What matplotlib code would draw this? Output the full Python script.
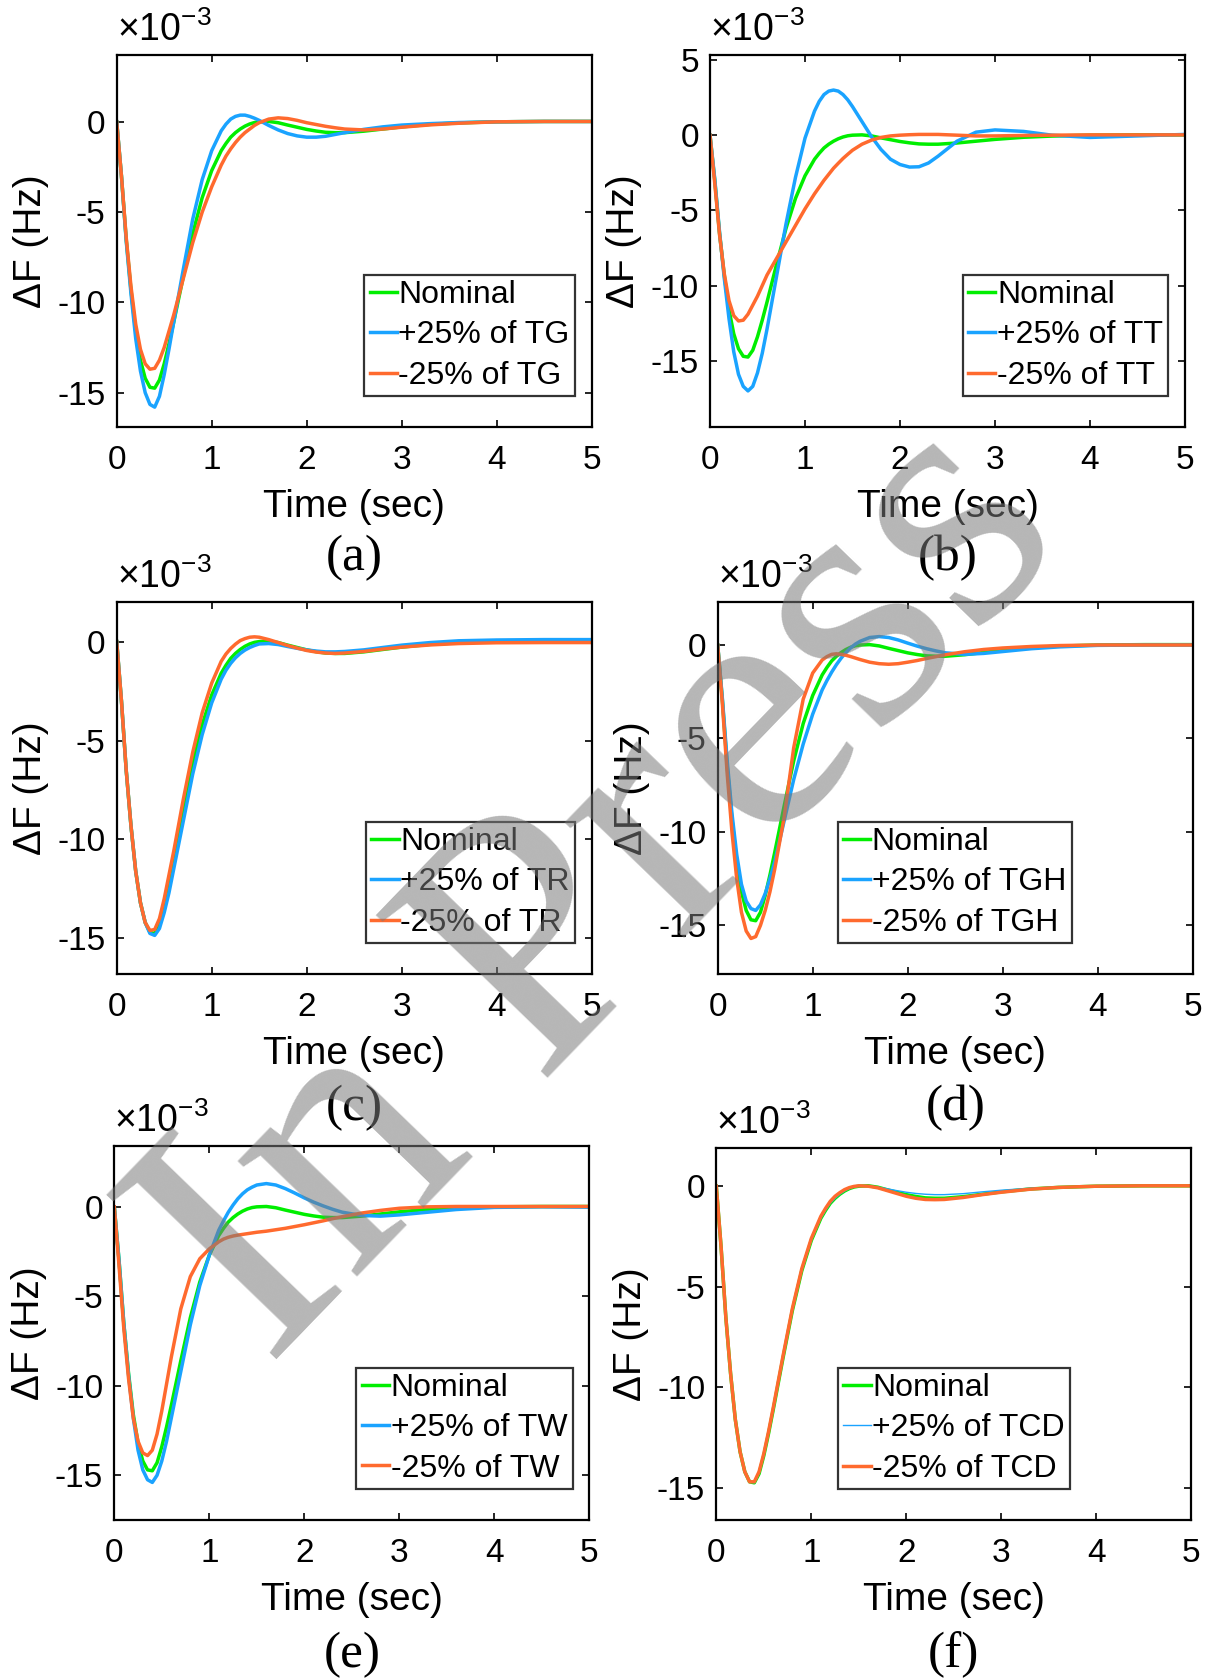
import matplotlib
matplotlib.use("Agg")
import matplotlib.pyplot as plt
from matplotlib.ticker import MultipleLocator

plt.rcParams['font.family'] = ['Liberation Sans', 'DejaVu Sans']
plt.rcParams['axes.unicode_minus'] = False
plt.rcParams['mathtext.fontset'] = 'custom'
plt.rcParams['mathtext.rm'] = 'Liberation Sans'

# time axis (sec) and frequency deviation (x 1e-3 Hz)
t = [0, 0.05, 0.1, 0.15, 0.2, 0.25, 0.3, 0.35, 0.4, 0.45, 0.5, 0.55, 0.6, 0.7, 0.8, 0.9,
     1.0, 1.1, 1.15, 1.2, 1.25, 1.3, 1.35, 1.4, 1.45, 1.5, 1.6, 1.7, 1.8, 1.9, 2.0, 2.1,
     2.2, 2.3, 2.4, 2.6, 2.8, 3.0, 3.3, 3.6, 4.0, 4.5, 5.0]

nominal = [0, -3.0, -6.5, -9.3, -11.6, -13.2, -14.2, -14.7, -14.75, -14.3, -13.4, -12.3, -11.1,
           -8.6, -6.2, -4.2, -2.7, -1.6, -1.2, -0.85, -0.6, -0.4, -0.24, -0.12, -0.04, 0.0,
           0.02, -0.05, -0.18, -0.3, -0.42, -0.51, -0.58, -0.6, -0.6, -0.52, -0.4, -0.28,
           -0.14, -0.06, 0.0, 0.02, 0.02]

tg_plus = [0, -3.0, -6.6, -9.5, -12.0, -13.8, -15.0, -15.65, -15.8, -15.2, -14.0, -12.6, -11.1,
           -8.2, -5.4, -3.2, -1.6, -0.5, -0.13, 0.15, 0.3, 0.37, 0.37, 0.3, 0.2, 0.08, -0.2,
           -0.45, -0.65, -0.78, -0.85, -0.85, -0.8, -0.7, -0.6, -0.42, -0.28, -0.18, -0.1,
           -0.04, 0.0, 0.02, 0.02]
tg_minus = [0, -3.0, -6.4, -9.1, -11.2, -12.6, -13.4, -13.7, -13.65, -13.2, -12.5, -11.6, -10.7,
            -8.7, -6.7, -5.0, -3.6, -2.4, -1.9, -1.5, -1.15, -0.85, -0.6, -0.4, -0.2, -0.05,
            0.15, 0.22, 0.18, 0.08, -0.05, -0.15, -0.25, -0.33, -0.4, -0.45, -0.4, -0.3,
            -0.17, -0.08, 0.0, 0.02, 0.02]

tt_plus = [0, -2.9, -6.4, -9.5, -12.2, -14.4, -15.9, -16.7, -17.0, -16.7, -15.8, -14.5, -12.9,
           -9.4, -5.9, -2.8, -0.2, 1.6, 2.25, 2.7, 2.93, 3.0, 2.93, 2.7, 2.35, 1.9, 0.9, -0.1,
           -0.95, -1.6, -1.95, -2.12, -2.1, -1.85, -1.4, -0.4, 0.2, 0.35, 0.25, 0.0, -0.15,
           -0.05, 0.05]
tt_minus = [0, -3.2, -6.6, -9.2, -11.0, -12.0, -12.35, -12.3, -11.9, -11.3, -10.7, -10.0, -9.3,
            -8.2, -7.1, -6.0, -4.9, -3.9, -3.45, -3.0, -2.6, -2.2, -1.87, -1.55, -1.27, -1.0,
            -0.6, -0.33, -0.15, -0.05, 0.0, 0.03, 0.05, 0.05, 0.05, 0.0, -0.05, -0.05, -0.02,
            0.0, 0.02, 0.02, 0.02]

tr_plus = [0, -3.0, -6.5, -9.3, -11.6, -13.2, -14.2, -14.75, -14.85, -14.5, -13.7, -12.7, -11.5,
           -9.1, -6.7, -4.7, -3.1, -1.9, -1.45, -1.1, -0.82, -0.6, -0.43, -0.3, -0.2, -0.12,
           -0.1, -0.15, -0.25, -0.34, -0.42, -0.48, -0.52, -0.52, -0.5, -0.42, -0.3, -0.18,
           -0.05, 0.04, 0.08, 0.1, 0.1]
tr_minus = [0, -3.0, -6.5, -9.3, -11.6, -13.2, -14.2, -14.6, -14.55, -14.0, -13.0, -11.8, -10.6,
            -8.0, -5.6, -3.6, -2.1, -1.0, -0.63, -0.35, -0.13, 0.05, 0.15, 0.22, 0.24, 0.22,
            0.1, -0.05, -0.2, -0.33, -0.45, -0.53, -0.58, -0.6, -0.58, -0.5, -0.38, -0.28,
            -0.17, -0.1, -0.06, -0.05, -0.05]

tgh_plus = [0, -2.9, -6.2, -9.0, -11.2, -12.8, -13.7, -14.1, -14.2, -13.9, -13.3, -12.5, -11.6,
            -9.4, -7.2, -5.3, -3.7, -2.4, -1.9, -1.45, -1.05, -0.7, -0.4, -0.15, 0.05, 0.2,
            0.4, 0.45, 0.4, 0.27, 0.1, -0.06, -0.2, -0.32, -0.42, -0.5, -0.45, -0.35, -0.2,
            -0.1, -0.02, 0.0, 0.0]
tgh_minus = [0, -3.2, -6.9, -10.0, -12.5, -14.3, -15.3, -15.7, -15.6, -15.0, -14.2, -13.2, -12.0,
             -9.2, -5.5, -2.9, -1.5, -0.8, -0.62, -0.5, -0.47, -0.5, -0.55, -0.62, -0.7, -0.78,
             -0.92, -1.0, -1.03, -1.0, -0.92, -0.83, -0.72, -0.62, -0.52, -0.36, -0.24, -0.16,
             -0.08, -0.03, 0.0, 0.0, 0.0]

tw_plus = [0, -3.0, -6.5, -9.4, -11.8, -13.6, -14.7, -15.25, -15.4, -15.0, -14.2, -13.1, -11.8,
           -9.2, -6.6, -4.4, -2.7, -1.3, -0.78, -0.3, 0.1, 0.45, 0.73, 0.95, 1.1, 1.22, 1.3,
           1.22, 1.02, 0.77, 0.5, 0.26, 0.05, -0.14, -0.3, -0.48, -0.52, -0.45, -0.3, -0.15,
           -0.03, 0.0, -0.02]
tw_minus = [0, -3.3, -6.8, -9.6, -11.8, -13.1, -13.75, -13.9, -13.6, -12.7, -11.4, -9.9, -8.4,
            -5.7, -3.9, -2.9, -2.35, -1.95, -1.8, -1.7, -1.63, -1.58, -1.54, -1.5, -1.46, -1.42,
            -1.36, -1.28, -1.2, -1.1, -1.0, -0.89, -0.78, -0.66, -0.55, -0.35, -0.2, -0.08,
            0.0, 0.02, 0.02, 0.02, 0.02]

tcd_plus = [0, -3.0, -6.5, -9.3, -11.6, -13.2, -14.2, -14.7, -14.75, -14.3, -13.4, -12.3, -11.1,
            -8.6, -6.2, -4.2, -2.7, -1.6, -1.2, -0.85, -0.6, -0.4, -0.24, -0.12, -0.04, 0.0,
            0.02, -0.04, -0.13, -0.22, -0.3, -0.36, -0.4, -0.42, -0.42, -0.37, -0.28, -0.2,
            -0.1, -0.04, 0.0, 0.02, 0.02]
tcd_minus = [0, -3.0, -6.5, -9.3, -11.6, -13.2, -14.2, -14.7, -14.7, -14.2, -13.3, -12.2, -11.0,
             -8.5, -6.1, -4.1, -2.6, -1.5, -1.1, -0.75, -0.5, -0.32, -0.17, -0.07, -0.01, 0.02,
             0.0, -0.08, -0.22, -0.36, -0.5, -0.6, -0.66, -0.67, -0.66, -0.56, -0.42, -0.3,
             -0.15, -0.06, 0.0, 0.02, 0.02]

params = ["TG", "TT", "TR", "TGH", "TW", "TCD"]
plus_curves = [tg_plus, tt_plus, tr_plus, tgh_plus, tw_plus, tcd_plus]
minus_curves = [tg_minus, tt_minus, tr_minus, tgh_minus, tw_minus, tcd_minus]
captions = ["(a)", "(b)", "(c)", "(d)", "(e)", "(f)"]
ylims = [(-16.9, 3.7), (-19.4, 5.33), (-16.8, 2.0), (-17.6, 2.3), (-17.5, 3.4), (-16.6, 1.9)]

# axes boxes in pixels: left, top, right, bottom
boxes = [(116.7, 55, 591.7, 427), (710, 55, 1185, 427),
         (116.7, 602, 591.7, 974), (717.7, 602, 1192.7, 974),
         (114.3, 1146, 589.3, 1520), (716.3, 1148, 1191.3, 1520)]
legend_x = [0.965, 0.965, 0.965, 0.745, 0.965, 0.745]
caption_y = [558, 558, 1108, 1108, 1655, 1655]

W, H = 1212, 1679
fig = plt.figure(figsize=(W / 100, H / 100), dpi=100)

green = '#00ee00'
blue = '#1aa3ff'
orange = '#ff6a2e'

for i in range(6):
    l, tp, r, b = boxes[i]
    ax = fig.add_axes([l / W, 1 - b / H, (r - l) / W, (b - tp) / H])
    ax.plot(t, nominal, color=green, lw=2.5, label="Nominal")
    ax.plot(t, plus_curves[i], color=blue, lw=1.0 if i == 5 else 2.5,
            label="+25% of " + params[i])
    ax.plot(t, minus_curves[i], color=orange, lw=2.5, label="-25% of " + params[i])
    ax.set_xlim(0, 5)
    ax.set_ylim(*ylims[i])
    ax.yaxis.set_major_locator(MultipleLocator(5))
    ax.xaxis.set_major_locator(MultipleLocator(1))
    ax.tick_params(direction='in', length=5, width=1.2, top=True, right=True,
                   labelsize=24, pad=8)
    ax.tick_params(axis='x', pad=13)
    for s in ax.spines.values():
        s.set_linewidth(1.6)
    ax.set_xlabel("Time (sec)", fontsize=28, labelpad=9)
    ax.set_ylabel("ΔF (Hz)", fontsize=28, labelpad=6)
    ax.text(0.0, 1.015, r'$\times\mathregular{10^{-3}}$', transform=ax.transAxes,
            fontsize=27, ha='left', va='bottom')
    leg = ax.legend(loc='lower right', bbox_to_anchor=(legend_x[i], 0.083), fontsize=23,
                    frameon=True, fancybox=False, edgecolor='#333333', framealpha=1,
                    handlelength=0.85, handletextpad=0.05, labelspacing=0.32,
                    borderpad=0.17, borderaxespad=0)
    leg.get_frame().set_linewidth(1.6)
    fig.text(((l + r) / 2) / W, 1 - caption_y[i] / H, captions[i],
             family='Liberation Serif', fontsize=37, ha='center', va='center')

# "In Press" watermark
fig.text(0.5, 0.468, "In Press", family='Liberation Serif', fontsize=260,
         color='#7a7a7a', alpha=0.55, rotation=46, ha='center', va='center', zorder=10)

fig.savefig("out.png", dpi=100)
